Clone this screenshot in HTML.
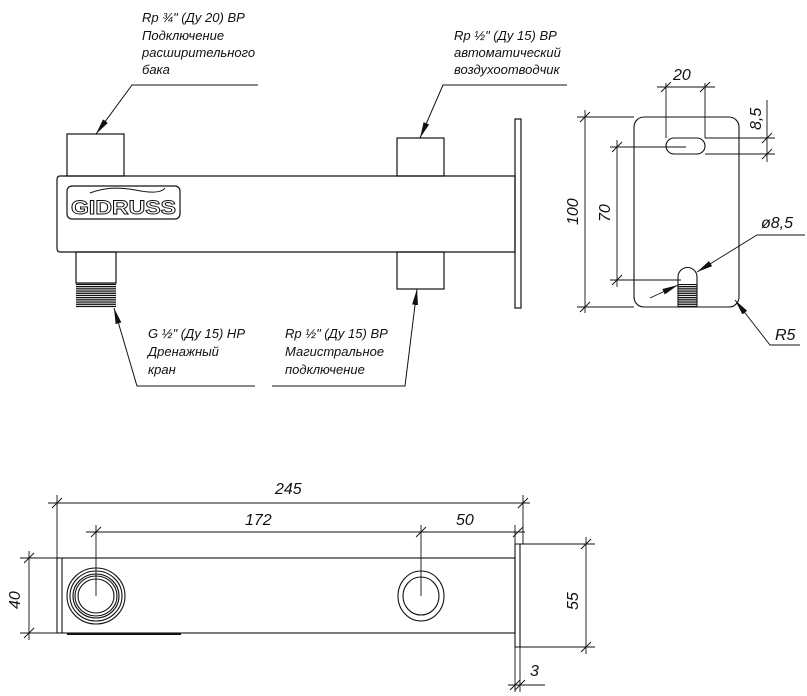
<!DOCTYPE html>
<html><head><meta charset="utf-8"><style>
html,body{margin:0;padding:0;background:#fff;}
svg{display:block;}
text{font-family:"Liberation Sans",sans-serif;font-style:italic;fill:#111;}
.t{font-size:13px;}
.d{font-size:16px;}
</style></head><body>
<svg width="807" height="696" viewBox="0 0 807 696" xmlns="http://www.w3.org/2000/svg">
<defs>
<marker id="ar" viewBox="0 0 16 6" refX="16" refY="3" markerWidth="16" markerHeight="6" orient="auto" markerUnits="userSpaceOnUse"><path d="M0,0 L16,3 L0,6 z" fill="#111"/></marker>
<pattern id="th" width="4" height="2.2" patternUnits="userSpaceOnUse"><rect width="4" height="1.3" fill="#111"/></pattern>
</defs>
<g fill="none" stroke="#111" stroke-width="1.2">
<rect x="67" y="134" width="57" height="42"/>
<rect x="397" y="138" width="47" height="38"/>
<path d="M60,176 H515 V252 H60 Q57,252 57,248 V180 Q57,176 60,176 Z"/>
<rect x="515" y="119" width="6" height="189"/>
<rect x="67" y="186" width="113" height="33" rx="5"/>
<rect x="76" y="252" width="40" height="31"/>
<rect x="76" y="283" width="40" height="25" fill="url(#th)" stroke="none"/>
<rect x="397" y="252" width="47" height="37"/>
<path d="M90,193 Q110,185 135,190 T165,188" stroke-width="1"/>
</g>
<text x="71" y="214" textLength="105" lengthAdjust="spacingAndGlyphs" style="font-style:normal;font-weight:bold;font-size:19px;fill:#fff;stroke:#111;stroke-width:0.9">GIDRUSS</text>
<g fill="none" stroke="#111" stroke-width="1">
<path d="M258,85 H132 L96,134" marker-end="url(#ar)"/>
<path d="M567,85 H443 L420,138" marker-end="url(#ar)"/>
<path d="M255,386 H137 L114,308" marker-end="url(#ar)"/>
<path d="M272,386 H405 L417,289" marker-end="url(#ar)"/>
</g>
<g class="t">
<text x="142" y="22">Rp ¾" (Ду 20) ВР</text>
<text x="142" y="40">Подключение</text>
<text x="142" y="57">расширительного</text>
<text x="142" y="74">бака</text>
<text x="454" y="40">Rp ½" (Ду 15) ВР</text>
<text x="454" y="57">автоматический</text>
<text x="454" y="74">воздухоотводчик</text>
<text x="148" y="338">G ½" (Ду 15) НР</text>
<text x="148" y="356">Дренажный</text>
<text x="148" y="374">кран</text>
<text x="285" y="338">Rp ½" (Ду 15) ВР</text>
<text x="285" y="356">Магистральное</text>
<text x="285" y="374">подключение</text>
</g>
<g fill="none" stroke="#111" stroke-width="1.1">
<rect x="634" y="117" width="105" height="190" rx="10"/>
<rect x="666" y="138" width="39" height="16" rx="8"/>
<path d="M678,307 V277 A9.5,9.5 0 0 1 697,277 V307"/>
</g>
<rect x="678" y="284" width="19" height="23" fill="url(#th)"/>
<g fill="none" stroke="#111" stroke-width="0.9">
<path d="M577,117 H634 M577,307 H634 M585,110 V313"/>
<path d="M580,122 L590,112 M580,312 L590,302"/>
<path d="M610,147 H686 M610,280 H681 M617,140 V287"/>
<path d="M612,152 L622,142 M612,285 L622,275"/>
<path d="M666,138 V83 M705,138 V83 M657,87 H715"/>
<path d="M661,92 L671,82 M700,92 L710,82"/>
<path d="M705,138 H775 M705,154 H775 M767,100 V162"/>
<path d="M762,143 L772,133 M762,159 L772,149"/>
<path d="M805,235 H757 L697,272" marker-end="url(#ar)"/>
<path d="M650,298 L678,285" marker-end="url(#ar)"/>
<path d="M800,345 H770 L735,300" marker-end="url(#ar)"/>
</g>
<g class="d">
<text x="673" y="80">20</text>
<text transform="translate(761,130) rotate(-90)">8,5</text>
<text transform="translate(578,225) rotate(-90)">100</text>
<text transform="translate(610,222) rotate(-90)">70</text>
<text x="761" y="228">ø8,5</text>
<text x="775" y="340">R5</text>
</g>
<g fill="none" stroke="#111" stroke-width="1.1">
<rect x="57" y="558" width="458" height="75"/>
<path d="M62,558 V633"/>
<path d="M67,634 H181" stroke-width="2"/>
<path d="M515,544 H520 V647 H515 Z"/>
<ellipse cx="96" cy="596" rx="29" ry="28"/>
<ellipse cx="96" cy="596" rx="26" ry="25"/>
<ellipse cx="96" cy="596" rx="23" ry="22"/>
<ellipse cx="96" cy="596" rx="21" ry="20"/>
<ellipse cx="96" cy="596" rx="18" ry="17"/>
<ellipse cx="421" cy="596" rx="23" ry="25"/>
<ellipse cx="421" cy="596" rx="18" ry="19"/>
</g>
<g fill="none" stroke="#111" stroke-width="0.9">
<path d="M57,495 V558 M523,495 V544 M48,503 H530"/>
<path d="M52,508 L62,498 M518,508 L528,498"/>
<path d="M96,525 V596 M421,525 V596 M515,525 V544 M86,532 H525"/>
<path d="M91,537 L101,527 M416,537 L426,527 M513,537 L523,527"/>
<path d="M20,558 H57 M20,633 H57 M29,551 V640"/>
<path d="M24,563 L34,553 M24,638 L34,628"/>
<path d="M520,544 H595 M520,647 H595 M586,537 V654"/>
<path d="M581,549 L591,539 M581,652 L591,642"/>
<path d="M515,647 V692 M520,647 V692 M508,685 H545"/>
<path d="M510,690 L520,680 M515,690 L525,680"/>
</g>
<g class="d">
<text x="275" y="494">245</text>
<text x="245" y="525">172</text>
<text x="456" y="525">50</text>
<text transform="translate(20,609) rotate(-90)">40</text>
<text transform="translate(578,610) rotate(-90)">55</text>
<text x="530" y="676">3</text>
</g>
</svg>
</body></html>
